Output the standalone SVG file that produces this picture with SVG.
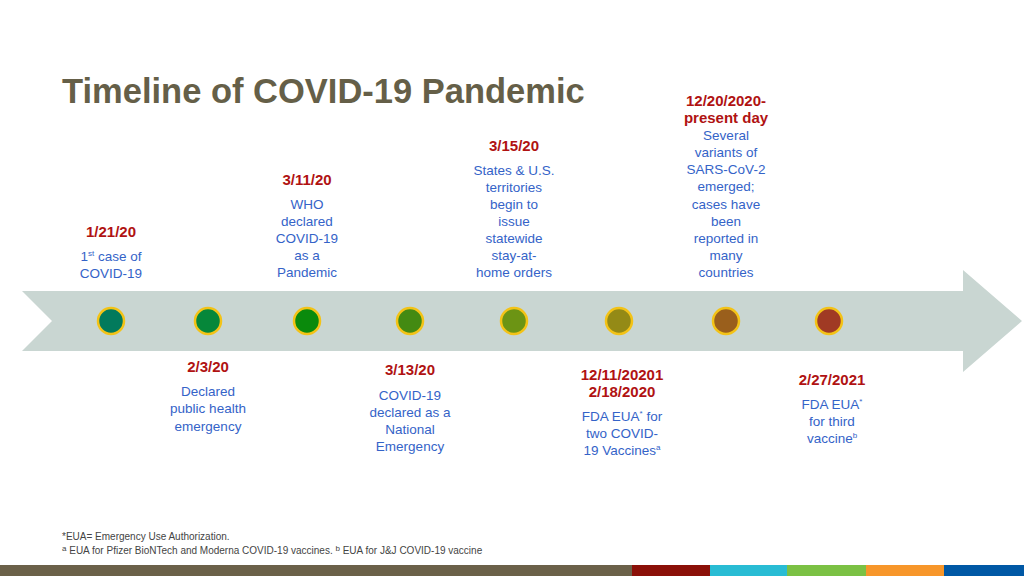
<svg xmlns="http://www.w3.org/2000/svg" width="1024" height="576" viewBox="0 0 1024 576">
<style>
.t{font-family:"Liberation Sans",Arial,sans-serif;font-weight:bold;font-size:34.5px;fill:#655f48}
.d{font-family:"Liberation Sans",Arial,sans-serif;font-weight:bold;font-size:15px;fill:#b01212;text-anchor:middle}
.b{font-family:"Liberation Sans",Arial,sans-serif;font-size:13.5px;fill:#3463c8;text-anchor:middle}
.f{font-family:"Liberation Sans",Arial,sans-serif;font-size:10px;fill:#444}
.s{font-size:8px}
.dot{stroke:#f3c317;stroke-width:2.5}
</style>
<rect width="1024" height="576" fill="#fff"/>
<text class="t" x="62" y="103">Timeline of COVID-19 Pandemic</text>
<g id="arrow">
<polygon points="22,291 963,291 963,270 1022,321 963,372 963,351 22,351 52,321" fill="#c9d6d2"/>
</g>
<g id="connectors"></g>
<g id="n1"><circle class="dot" cx="111" cy="321" r="13" fill="#027a5c"/>
<text class="d" x="111" y="237">1/21/20</text>
<text class="b" x="111" y="261">1<tspan class="s" dy="-5">st</tspan><tspan dy="5"> case of</tspan></text>
<text class="b" x="111" y="278">COVID-19</text></g>
<g id="n2"><circle class="dot" cx="208" cy="321" r="13" fill="#06873a"/>
<text class="d" x="208" y="372">2/3/20</text>
<text class="b" x="208" y="396">Declared</text>
<text class="b" x="208" y="413">public health</text>
<text class="b" x="208" y="431">emergency</text></g>
<g id="n3"><circle class="dot" cx="307" cy="321" r="13" fill="#0a8a0c"/>
<text class="d" x="307" y="185">3/11/20</text>
<text class="b" x="307" y="209">WHO</text>
<text class="b" x="307" y="226">declared</text>
<text class="b" x="307" y="243">COVID-19</text>
<text class="b" x="307" y="260">as a</text>
<text class="b" x="307" y="277">Pandemic</text></g>
<g id="n4"><circle class="dot" cx="410" cy="321" r="13" fill="#438a12"/>
<text class="d" x="410" y="375">3/13/20</text>
<text class="b" x="410" y="400">COVID-19</text>
<text class="b" x="410" y="417">declared as a</text>
<text class="b" x="410" y="434">National</text>
<text class="b" x="410" y="451">Emergency</text></g>
<g id="n5"><circle class="dot" cx="514" cy="321" r="13" fill="#6c9414"/>
<text class="d" x="514" y="151">3/15/20</text>
<text class="b" x="514" y="175">States &amp; U.S.</text>
<text class="b" x="514" y="192">territories</text>
<text class="b" x="514" y="209">begin to</text>
<text class="b" x="514" y="226">issue</text>
<text class="b" x="514" y="243">statewide</text>
<text class="b" x="514" y="260">stay-at-</text>
<text class="b" x="514" y="277">home orders</text></g>
<g id="n6"><circle class="dot" cx="619" cy="321" r="13" fill="#948a16"/>
<text class="d" x="622" y="380">12/11/20201</text>
<text class="d" x="622" y="397">2/18/2020</text>
<text class="b" x="622" y="421">FDA EUA<tspan class="s" dy="-5">*</tspan><tspan dy="5">  for</tspan></text>
<text class="b" x="622" y="438">two COVID-</text>
<text class="b" x="622" y="455">19 Vaccines<tspan class="s" dy="-5">a</tspan></text></g>
<g id="n7"><circle class="dot" cx="726" cy="321" r="13" fill="#9a5f1c"/>
<text class="d" x="726" y="106">12/20/2020-</text>
<text class="d" x="726" y="123">present day</text>
<text class="b" x="726" y="140">Several</text>
<text class="b" x="726" y="157">variants of</text>
<text class="b" x="726" y="174">SARS-CoV-2</text>
<text class="b" x="726" y="191">emerged;</text>
<text class="b" x="726" y="209">cases have</text>
<text class="b" x="726" y="226">been</text>
<text class="b" x="726" y="243">reported in</text>
<text class="b" x="726" y="260">many</text>
<text class="b" x="726" y="277">countries</text></g>
<g id="n8"><circle class="dot" cx="829" cy="321" r="13" fill="#a03a24"/>
<text class="d" x="832" y="385">2/27/2021</text>
<text class="b" x="832" y="409">FDA EUA<tspan class="s" dy="-5">*</tspan></text>
<text class="b" x="832" y="426">for third</text>
<text class="b" x="832" y="443">vaccine<tspan class="s" dy="-5">b</tspan></text></g>
<g id="footnotes">
<text class="f" x="62" y="540">*EUA= Emergency Use Authorization.</text>
<text class="f" x="62" y="554"><tspan class="s" dy="-3">a</tspan><tspan dy="3"> EUA for Pfizer BioNTech and Moderna COVID-19 vaccines. </tspan><tspan class="s" dy="-3">b</tspan><tspan dy="3"> EUA for J&amp;J COVID-19 vaccine</tspan></text>
</g>
<g id="bar">
<rect x="0" y="565" width="632" height="11" fill="#6b6149"/>
<rect x="632" y="565" width="78" height="11" fill="#8b1008"/>
<rect x="710" y="565" width="77" height="11" fill="#29bcd4"/>
<rect x="787" y="565" width="79" height="11" fill="#7bc144"/>
<rect x="866" y="565" width="78" height="11" fill="#f7962a"/>
<rect x="944" y="565" width="80" height="11" fill="#0058a5"/>
</g>
</svg>
